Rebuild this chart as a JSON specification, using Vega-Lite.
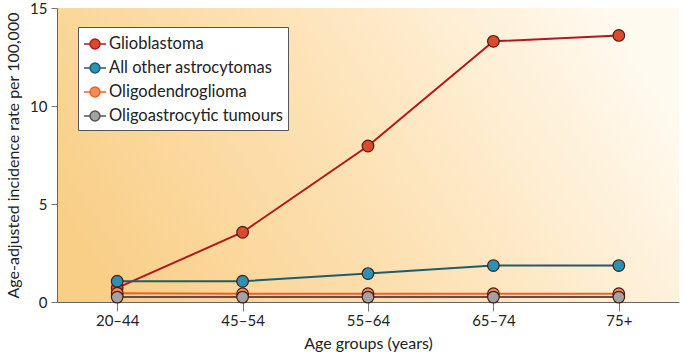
{
  "$schema": "https://vega.github.io/schema/vega-lite/v6.json",
  "autosize": "none",
  "width": 622,
  "height": 294,
  "padding": {"left": 57, "top": 8, "right": 6, "bottom": 58},
  "background": "white",
  "config": {
    "font": "Lato",
    "view": {
      "stroke": null,
      "fill": {
        "gradient": "linear",
        "x1": 0, "y1": 0.65, "x2": 1, "y2": 0.35,
        "stops": [
          {"offset": 0, "color": "#f9cf88"},
          {"offset": 0.5, "color": "#fde3b8"},
          {"offset": 1, "color": "#fffaf0"}
        ]
      }
    },
    "axis": {
      "domainColor": "#666666",
      "tickColor": "#777777",
      "labelColor": "#222222",
      "titleColor": "#222222",
      "labelFont": "Lato",
      "titleFont": "Lato",
      "labelFontSize": 15,
      "titleFontSize": 16,
      "titleFontWeight": "normal",
      "grid": false
    },
    "legend": {
      "orient": "none",
      "legendX": 21,
      "legendY": 19,
      "fillColor": "white",
      "strokeColor": "#555555",
      "padding": 5,
      "labelFont": "Lato",
      "labelFontSize": 16.5,
      "labelColor": "#222222",
      "labelLimit": 0,
      "labelOffset": 2,
      "rowPadding": 3,
      "symbolSize": 484,
      "symbolStrokeWidth": 1.5,
      "symbolType": "M-1,0H-0.45M0.45,0H1M0.45,0A0.45,0.45,0,1,1,-0.45,0A0.45,0.45,0,1,1,0.45,0Z"
    }
  },
  "data": {
    "values": [
      {"age": "20–44", "type": "Glioblastoma", "rate": 0.72},
      {"age": "45–54", "type": "Glioblastoma", "rate": 3.56},
      {"age": "55–64", "type": "Glioblastoma", "rate": 7.96},
      {"age": "65–74", "type": "Glioblastoma", "rate": 13.3},
      {"age": "75+", "type": "Glioblastoma", "rate": 13.6},
      {"age": "20–44", "type": "All other astrocytomas", "rate": 1.06},
      {"age": "45–54", "type": "All other astrocytomas", "rate": 1.06},
      {"age": "55–64", "type": "All other astrocytomas", "rate": 1.45},
      {"age": "65–74", "type": "All other astrocytomas", "rate": 1.86},
      {"age": "75+", "type": "All other astrocytomas", "rate": 1.86},
      {"age": "20–44", "type": "Oligodendroglioma", "rate": 0.45},
      {"age": "45–54", "type": "Oligodendroglioma", "rate": 0.42},
      {"age": "55–64", "type": "Oligodendroglioma", "rate": 0.42},
      {"age": "65–74", "type": "Oligodendroglioma", "rate": 0.42},
      {"age": "75+", "type": "Oligodendroglioma", "rate": 0.42},
      {"age": "20–44", "type": "Oligoastrocytic tumours", "rate": 0.25},
      {"age": "45–54", "type": "Oligoastrocytic tumours", "rate": 0.25},
      {"age": "55–64", "type": "Oligoastrocytic tumours", "rate": 0.25},
      {"age": "65–74", "type": "Oligoastrocytic tumours", "rate": 0.25},
      {"age": "75+", "type": "Oligoastrocytic tumours", "rate": 0.25}
    ]
  },
  "encoding": {
    "x": {
      "field": "age",
      "type": "ordinal",
      "sort": ["20–44", "45–54", "55–64", "65–74", "75+"],
      "scale": {"type": "point", "padding": 0.48},
      "axis": {
        "title": "Age groups (years)",
        "labelAngle": 0,
        "tickSize": 9,
        "labelPadding": 2,
        "titlePadding": 7
      }
    },
    "y": {
      "field": "rate",
      "type": "quantitative",
      "scale": {"domain": [0, 15], "nice": false},
      "axis": {
        "title": "Age-adjusted incidence rate per 100,000",
        "values": [0, 5, 10, 15],
        "tickSize": 6,
        "labelPadding": 4,
        "titlePadding": 8
      }
    }
  },
  "layer": [
    {
      "mark": {"type": "line", "strokeWidth": 2},
      "encoding": {
        "stroke": {
          "field": "type",
          "type": "nominal",
          "sort": ["Glioblastoma", "All other astrocytomas", "Oligodendroglioma", "Oligoastrocytic tumours"],
          "scale": {
            "domain": ["Glioblastoma", "All other astrocytomas", "Oligodendroglioma", "Oligoastrocytic tumours"],
            "range": ["#b3171c", "#1d5d6e", "#e8612c", "#5a5050"]
          },
          "legend": {"title": null}
        }
      }
    },
    {
      "mark": {"type": "point", "filled": true, "shape": "circle", "size": 135, "stroke": "#4a1c14", "strokeWidth": 1.2, "opacity": 1},
      "encoding": {
        "fill": {
          "field": "type",
          "type": "nominal",
          "sort": ["Glioblastoma", "All other astrocytomas", "Oligodendroglioma", "Oligoastrocytic tumours"],
          "scale": {
            "domain": ["Glioblastoma", "All other astrocytomas", "Oligodendroglioma", "Oligoastrocytic tumours"],
            "range": ["#dc4a2e", "#2a92b5", "#f28b55", "#a3a3a3"]
          },
          "legend": {"title": null}
        }
      }
    }
  ]
}
